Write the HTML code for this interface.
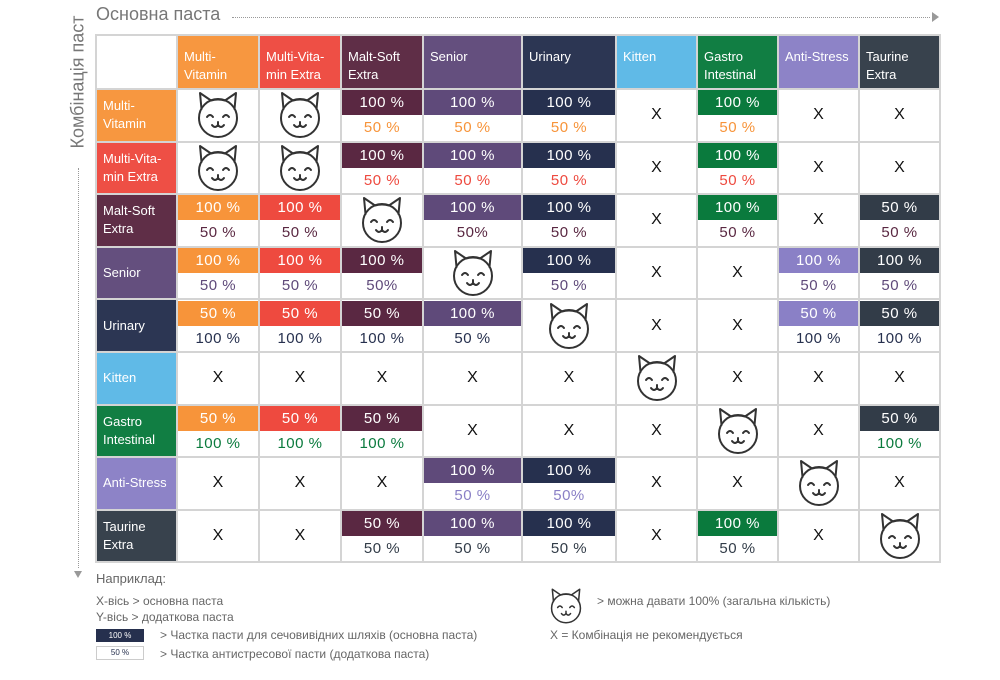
<!DOCTYPE html>
<html><head><meta charset="utf-8">
<style>
body{margin:0;width:1000px;height:680px;background:#fff;position:relative;overflow:hidden;font-family:"Liberation Sans","DejaVu Sans",sans-serif;}
table{position:absolute;left:95px;top:34px;border-collapse:collapse;table-layout:fixed;}
td{border:2px solid #d4d4d4;padding:0;height:52.6px;text-align:center;vertical-align:middle;font-size:15px;color:#111;box-sizing:border-box;}
tr.h td{height:54px;}
td.l{text-align:left;color:#fff;font-size:13px;line-height:18px;padding-left:6px;opacity:.97;}
tr.h td.l{vertical-align:top;padding-top:12px;}
.s{display:flex;flex-direction:column;height:50px;}
.s div{height:25px;line-height:25px;font-size:15px;letter-spacing:.5px;}
.s div:first-child{color:#fff;}
.x{font-size:16px;}
svg.c{width:50px;height:50px;display:block;margin:auto;}
.o{background:#f7943a}.r{background:#ee4a3f}.m{background:#5a2842}.se{background:#5f4a7a}.u{background:#26304e}.k{background:#5bb8e7}.g{background:#0a7a3d}.a{background:#8a80c6}.t{background:#323c48}
.to{color:#f7943a}.tr{color:#ee4a3f}.tm{color:#5a2842}.tse{color:#5f4a7a}.tu{color:#26304e}.tg{color:#0a7a3d}.ta{color:#8a80c6}.tt{color:#323c48}
.lg{position:absolute;color:#666;font-size:12px;}
</style></head><body>
<svg width="0" height="0" style="position:absolute"><defs><symbol id="cat" viewBox="0 0 50 50"><g fill="none" stroke="#333" stroke-width="2" stroke-linecap="round" stroke-linejoin="round"><path d="M8.5 19 L7 3 L18 10.5 Q25 8.5 32 10.5 L43 3 L41.5 19"/><circle cx="25" cy="28" r="19"/><path d="M14 27 Q17 23 20 27 M30 27 Q33 23 36 27"/><path d="M19 35 Q22 39 25 35 Q28 39 31 35"/><path d="M25 32 L25 35"/></g></symbol></defs></svg>

<div style="position:absolute;left:96px;top:4px;font-size:18px;color:#777;">Основна паста</div>
<div style="position:absolute;left:232px;top:17px;width:698px;border-top:1px dotted #999;"></div>
<div style="position:absolute;left:932px;top:12px;width:0;height:0;border-left:7px solid #999;border-top:5px solid transparent;border-bottom:5px solid transparent;"></div>
<div style="position:absolute;left:-2px;top:85px;width:160px;transform:rotate(-90deg);font-size:18px;color:#777;text-align:right;">Комбінація паст</div>
<div style="position:absolute;left:78px;top:168px;height:400px;border-left:1px dotted #999;"></div>
<div style="position:absolute;left:74px;top:571px;width:0;height:0;border-top:7px solid #999;border-left:4px solid transparent;border-right:4px solid transparent;"></div>

<table>
<colgroup><col style="width:81px"><col style="width:82px"><col style="width:82px"><col style="width:82px"><col style="width:99px"><col style="width:94px"><col style="width:81px"><col style="width:81px"><col style="width:81px"><col style="width:81px"></colgroup>
<tr class="h"><td></td><td class="l o">Multi-<br>Vitamin</td><td class="l r">Multi-Vita-<br>min Extra</td><td class="l m">Malt-Soft<br>Extra</td><td class="l se">Senior</td><td class="l u">Urinary</td><td class="l k">Kitten</td><td class="l g">Gastro<br>Intestinal</td><td class="l a">Anti-Stress</td><td class="l t">Taurine<br>Extra</td></tr>
<tr><td class="l o">Multi-<br>Vitamin</td><td><svg class="c"><use href="#cat"/></svg></td><td><svg class="c"><use href="#cat"/></svg></td><td><div class="s"><div class="m">100 %</div><div class="to">50 %</div></div></td><td><div class="s"><div class="se">100 %</div><div class="to">50 %</div></div></td><td><div class="s"><div class="u">100 %</div><div class="to">50 %</div></div></td><td class="x">X</td><td><div class="s"><div class="g">100 %</div><div class="to">50 %</div></div></td><td class="x">X</td><td class="x">X</td></tr>
<tr><td class="l r">Multi-Vita-<br>min Extra</td><td><svg class="c"><use href="#cat"/></svg></td><td><svg class="c"><use href="#cat"/></svg></td><td><div class="s"><div class="m">100 %</div><div class="tr">50 %</div></div></td><td><div class="s"><div class="se">100 %</div><div class="tr">50 %</div></div></td><td><div class="s"><div class="u">100 %</div><div class="tr">50 %</div></div></td><td class="x">X</td><td><div class="s"><div class="g">100 %</div><div class="tr">50 %</div></div></td><td class="x">X</td><td class="x">X</td></tr>
<tr><td class="l m">Malt-Soft<br>Extra</td><td><div class="s"><div class="o">100 %</div><div class="tm">50 %</div></div></td><td><div class="s"><div class="r">100 %</div><div class="tm">50 %</div></div></td><td><svg class="c"><use href="#cat"/></svg></td><td><div class="s"><div class="se">100 %</div><div class="tm">50%</div></div></td><td><div class="s"><div class="u">100 %</div><div class="tm">50 %</div></div></td><td class="x">X</td><td><div class="s"><div class="g">100 %</div><div class="tm">50 %</div></div></td><td class="x">X</td><td><div class="s"><div class="t">50 %</div><div class="tm">50 %</div></div></td></tr>
<tr><td class="l se">Senior</td><td><div class="s"><div class="o">100 %</div><div class="tse">50 %</div></div></td><td><div class="s"><div class="r">100 %</div><div class="tse">50 %</div></div></td><td><div class="s"><div class="m">100 %</div><div class="tse">50%</div></div></td><td><svg class="c"><use href="#cat"/></svg></td><td><div class="s"><div class="u">100 %</div><div class="tse">50 %</div></div></td><td class="x">X</td><td class="x">X</td><td><div class="s"><div class="a">100 %</div><div class="tse">50 %</div></div></td><td><div class="s"><div class="t">100 %</div><div class="tse">50 %</div></div></td></tr>
<tr><td class="l u">Urinary</td><td><div class="s"><div class="o">50 %</div><div class="tu">100 %</div></div></td><td><div class="s"><div class="r">50 %</div><div class="tu">100 %</div></div></td><td><div class="s"><div class="m">50 %</div><div class="tu">100 %</div></div></td><td><div class="s"><div class="se">100 %</div><div class="tu">50 %</div></div></td><td><svg class="c"><use href="#cat"/></svg></td><td class="x">X</td><td class="x">X</td><td><div class="s"><div class="a">50 %</div><div class="tu">100 %</div></div></td><td><div class="s"><div class="t">50 %</div><div class="tu">100 %</div></div></td></tr>
<tr><td class="l k">Kitten</td><td class="x">X</td><td class="x">X</td><td class="x">X</td><td class="x">X</td><td class="x">X</td><td><svg class="c"><use href="#cat"/></svg></td><td class="x">X</td><td class="x">X</td><td class="x">X</td></tr>
<tr><td class="l g">Gastro<br>Intestinal</td><td><div class="s"><div class="o">50 %</div><div class="tg">100 %</div></div></td><td><div class="s"><div class="r">50 %</div><div class="tg">100 %</div></div></td><td><div class="s"><div class="m">50 %</div><div class="tg">100 %</div></div></td><td class="x">X</td><td class="x">X</td><td class="x">X</td><td><svg class="c"><use href="#cat"/></svg></td><td class="x">X</td><td><div class="s"><div class="t">50 %</div><div class="tg">100 %</div></div></td></tr>
<tr><td class="l a">Anti-Stress</td><td class="x">X</td><td class="x">X</td><td class="x">X</td><td><div class="s"><div class="se">100 %</div><div class="ta">50 %</div></div></td><td><div class="s"><div class="u">100 %</div><div class="ta">50%</div></div></td><td class="x">X</td><td class="x">X</td><td><svg class="c"><use href="#cat"/></svg></td><td class="x">X</td></tr>
<tr><td class="l t">Taurine<br>Extra</td><td class="x">X</td><td class="x">X</td><td><div class="s"><div class="m">50 %</div><div class="tt">50 %</div></div></td><td><div class="s"><div class="se">100 %</div><div class="tt">50 %</div></div></td><td><div class="s"><div class="u">100 %</div><div class="tt">50 %</div></div></td><td class="x">X</td><td><div class="s"><div class="g">100 %</div><div class="tt">50 %</div></div></td><td class="x">X</td><td><svg class="c"><use href="#cat"/></svg></td></tr>
</table>

<div class="lg" style="left:96px;top:571px;font-size:13px;">Наприклад:</div>
<div class="lg" style="left:96px;top:594px;">X-вісь &gt; основна паста</div>
<div class="lg" style="left:96px;top:610px;">Y-вісь &gt; додаткова паста</div>
<div style="position:absolute;left:96px;top:629px;width:48px;height:13px;background:#26304e;color:#fff;font-size:8px;line-height:13px;text-align:center;">100 %</div>
<div style="position:absolute;left:96px;top:646px;width:46px;height:12px;border:1px solid #ccc;color:#26304e;font-size:8px;line-height:12px;text-align:center;">50 %</div>
<div class="lg" style="left:160px;top:628px;">&gt; Частка пасти для сечовивідних шляхів (основна паста)</div>
<div class="lg" style="left:160px;top:647px;">&gt; Частка антистресової пасти (додаткова паста)</div>
<svg style="position:absolute;left:547px;top:586px;width:38px;height:40px;" viewBox="0 0 50 50"><use href="#cat"/></svg>
<div class="lg" style="left:597px;top:594px;">&gt; можна давати 100% (загальна кількість)</div>
<div class="lg" style="left:550px;top:628px;">X = Комбінація не рекомендується</div>
</body></html>
